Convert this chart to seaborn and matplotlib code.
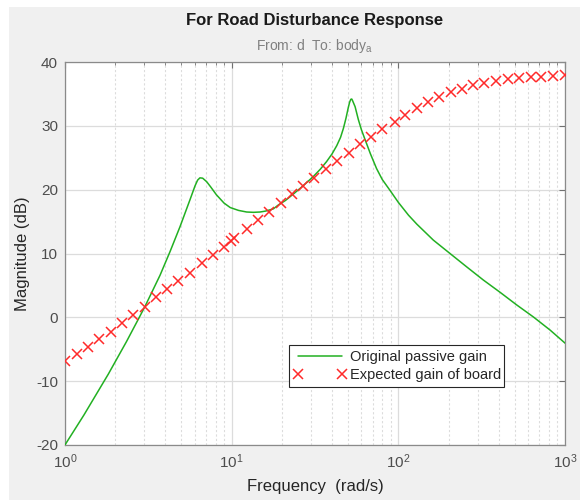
import numpy as np
import pandas as pd
import matplotlib
matplotlib.use("Agg")
import matplotlib.pyplot as plt
from matplotlib.patches import Rectangle
from matplotlib.ticker import LogLocator, NullFormatter
import seaborn as sns

# --- data ---
passive_freq = [1.0, 1.3, 1.82, 2.34, 2.78, 3.02, 3.72, 4.27, 4.9, 5.62, 6.03, 6.25, 6.45,
                6.7, 7.08, 7.5, 8.1, 9.0, 9.8, 11.0, 12.3, 13.5, 14.8, 16.0, 17.8, 19.05,
                21.0, 23.4, 26.0, 28.7, 31.0, 34.0, 37.1, 40.0, 42.7, 45.0, 46.8, 48.5,
                50.1, 51.0, 51.8, 52.5, 53.0, 55.0, 57.5, 60.0, 63.0, 68.0, 74.0, 80.0,
                89.0, 100.0, 115.0, 129.0, 162.0, 204.0, 257.0, 323.0, 406.0, 512.0,
                646.0, 813.0, 1000.0]
passive_db = [-20.0, -15.3, -8.9, -3.8, -0.1, 1.7, 6.6, 10.3, 14.2, 18.4, 20.6, 21.5, 21.85,
              21.8, 21.25, 20.4, 19.2, 17.9, 17.2, 16.75, 16.5, 16.45, 16.5, 16.65, 17.0,
              17.6, 18.3, 19.3, 20.3, 21.3, 22.1, 23.2, 24.4, 25.6, 26.9, 28.2, 29.6, 31.2,
              32.9, 33.7, 34.15, 34.2, 34.0, 33.0, 31.0, 29.4, 27.9, 25.6, 23.3, 21.6,
              19.9, 18.0, 16.0, 14.6, 12.1, 10.0, 7.9, 5.85, 3.95, 1.95, 0.05, -2.0, -4.05]

expected_freq = [1.0, 1.175, 1.38, 1.6, 1.88, 2.19, 2.55, 3.02, 3.52, 4.11, 4.79, 5.62, 6.61,
                 7.69, 9.0, 9.87, 10.3, 12.3, 14.3, 16.8, 19.8, 22.9, 26.9, 31.2, 36.8, 43.0,
                 50.6, 58.9, 68.5, 80.0, 95.4, 109.6, 128.8, 150.0, 176.0, 206.0, 241.0,
                 281.0, 326.0, 385.0, 456.0, 531.0, 622.0, 716.0, 850.0, 1000.0]
expected_db = [-6.85, -5.8, -4.7, -3.4, -2.26, -0.94, 0.36, 1.66, 3.13, 4.39, 5.74, 7.0, 8.46,
               9.76, 11.07, 11.96, 12.38, 13.84, 15.25, 16.55, 17.96, 19.33, 20.58, 21.83,
               23.21, 24.5, 25.8, 27.12, 28.31, 29.47, 30.56, 31.71, 32.76, 33.7, 34.53,
               35.27, 35.78, 36.35, 36.75, 37.05, 37.3, 37.45, 37.6, 37.7, 37.85, 37.9]

title = "For Road Disturbance Response"
subtitle = "From: d  To: body$_\\mathregular{a}$"
xlabel = "Frequency  (rad/s)"
ylabel = "Magnitude (dB)"
label_passive = "Original passive gain"
label_expected = "Expected gain of board"

# --- plotting ---
sns.set_theme(style="white")
plt.rcParams["font.family"] = ["Liberation Sans", "DejaVu Sans"]
plt.rcParams["mathtext.fontset"] = "custom"
plt.rcParams["mathtext.rm"] = "Liberation Sans"
plt.rcParams["mathtext.it"] = "Liberation Sans:italic"
plt.rcParams["axes.unicode_minus"] = False

fig = plt.figure(figsize=(5.85, 5.0), dpi=100, facecolor="#f0f0f0")
# white borders of the screenshot
for (x0, y0, w, h) in [(0, 0.986, 1, 0.014), (0, 0, 0.0154, 1), (0.9915, 0, 0.0085, 1)]:
    fig.patches.append(Rectangle((x0, y0), w, h, transform=fig.transFigure,
                                 facecolor="white", edgecolor="none", zorder=-1))

ax = fig.add_axes([0.111, 0.11, 0.855, 0.766])
ax.set_facecolor("white")

df_p = pd.DataFrame({"freq": passive_freq, "db": passive_db})
df_e = pd.DataFrame({"freq": expected_freq, "db": expected_db})

red = "#ff2a2a"
sns.lineplot(data=df_p, x="freq", y="db", ax=ax, color="#22b022", linewidth=1.1,
             label=label_passive, zorder=3)
sns.lineplot(data=df_e, x="freq", y="db", ax=ax, color=red, linestyle="none",
             marker="x", markersize=7, markeredgewidth=1.1, markeredgecolor=red,
             markerfacecolor=red, label=label_expected, zorder=4)

ax.set_xscale("log")
ax.set_xlim(1, 1000)
ax.set_ylim(-20, 40)
ax.set_yticks([-20, -10, 0, 10, 20, 30, 40])
ax.xaxis.set_major_locator(LogLocator(base=10, numticks=10))
ax.xaxis.set_minor_locator(LogLocator(base=10, subs=np.arange(2, 10), numticks=10))
ax.xaxis.set_minor_formatter(NullFormatter())

ax.grid(True, which="major", axis="both", color="#dcdcdc", linewidth=0.9, linestyle="-")
ax.grid(True, which="minor", axis="x", color="#dcdcdc", linewidth=0.8, linestyle=(0, (2, 2)))
ax.set_axisbelow(True)

tick_color = "#4d4d4d"
ax.tick_params(axis="both", which="both", direction="in", top=True, right=True,
               colors="#707070", labelcolor=tick_color, labelsize=11)
ax.tick_params(axis="both", which="major", length=4, width=0.8, pad=5)
ax.tick_params(axis="x", which="minor", length=2.5, width=0.6)
for s in ax.spines.values():
    s.set_color("#8a8a8a")
    s.set_linewidth(0.9)

ax.set_xlabel(xlabel, fontsize=12, color="#262626", labelpad=6)
ax.set_ylabel(ylabel, fontsize=12, color="#262626", labelpad=4)

fig.text(0.538, 0.96, title, ha="center", va="center", fontsize=12,
         fontweight="bold", color="#1a1a1a")
fig.text(0.538, 0.908, subtitle, ha="center", va="center", fontsize=10, color="#808080")

leg = ax.legend(loc="lower left", bbox_to_anchor=(0.448, 0.152, 0.43, 0.115),
                mode="expand", numpoints=2, handlelength=3.6, handletextpad=0.2,
                borderpad=0.35, labelspacing=0.25, fontsize=10.5, frameon=True,
                fancybox=False, borderaxespad=0)
leg.get_frame().set_edgecolor("#262626")
leg.get_frame().set_linewidth(0.8)
leg.get_frame().set_facecolor("white")
leg.get_frame().set_alpha(1)
for t in leg.get_texts():
    t.set_color("#262626")

fig.savefig("out.png", dpi=100, facecolor=fig.get_facecolor())
